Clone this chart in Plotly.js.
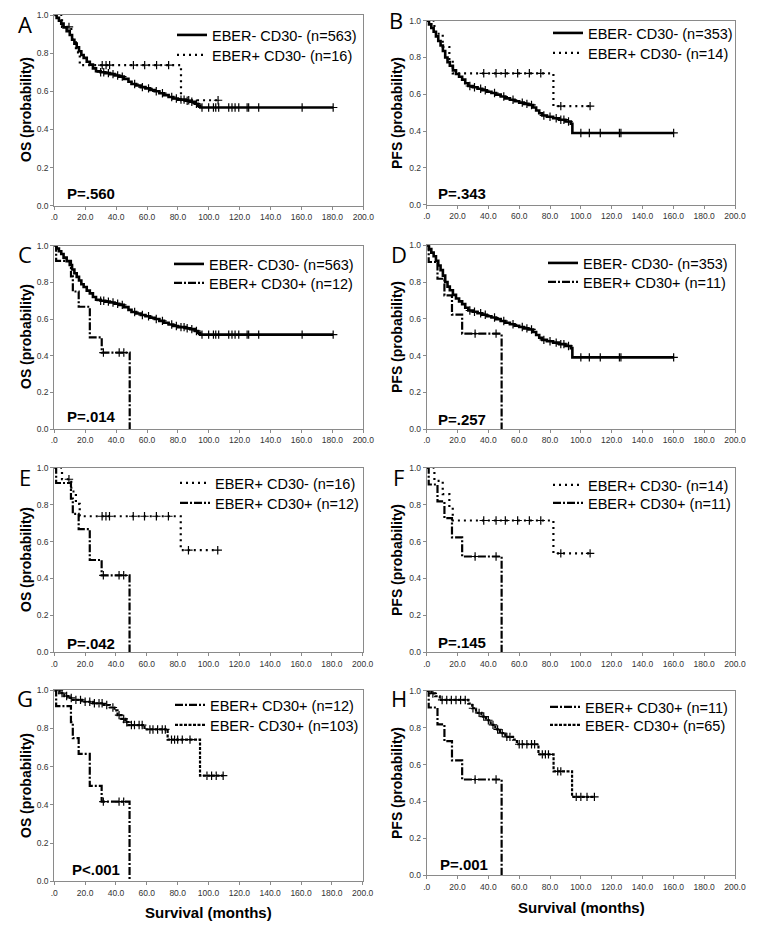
<!DOCTYPE html>
<html><head><meta charset="utf-8">
<script src="https://cdn.plot.ly/plotly-3.0.1.min.js"></script>
<style>html,body{margin:0;padding:0;background:#fff}#chart{width:762px;height:938px}</style>
</head><body><div id="chart"></div>
<script>
// ---------------- DATA ----------------
const xTickVals = [0,20,40,60,80,100,120,140,160,180,200];
const xTickText = ['.0','20.0','40.0','60.0','80.0','100.0','120.0','140.0','160.0','180.0','200.0'];
const yTickVals = [0,0.2,0.4,0.6,0.8,1.0];
const yTickText = ['0.0','0.2','0.4','0.6','0.8','1.0'];

// OS, EBER- CD30- (n=563)
const osNegNegT = [0,1.5,3,4.5,6,8,10,11.5,13,14.5,16,17.5,19,21,23,25,27,30,33,36,39,42,45,48,50,53,56,59,62,65,68,71,74,77,80,85,88,91,93,94.5,180.5];
const osNegNegS = [1.0,0.985,0.97,0.955,0.935,0.915,0.895,0.87,0.85,0.83,0.81,0.79,0.775,0.755,0.74,0.72,0.705,0.70,0.695,0.69,0.683,0.677,0.665,0.65,0.638,0.63,0.622,0.615,0.607,0.60,0.59,0.58,0.57,0.562,0.556,0.55,0.545,0.535,0.525,0.515,0.515];
const osNegNegC = [30,32,35,38,41,44,52,57,61,66,70,76,79,82,84,86,89,92,95.6,99.9,103,104.5,106.4,112.9,115,117,119.4,124.8,125.8,132.3,160.4,180.5];

// PFS, EBER- CD30- (n=353)
const pfsNegNegT = [0,1.5,3,4.5,6,7.5,9,10.5,12,13.5,15,17,19,21,23,25,27,30,33,36,39,42,45,48,51,54,57,60,63,66,69,71,73,75,78,82,86,90,93.5,94.5,160.5];
const pfsNegNegS = [1.0,0.98,0.96,0.94,0.915,0.89,0.865,0.835,0.80,0.775,0.755,0.73,0.71,0.695,0.68,0.66,0.645,0.638,0.63,0.622,0.614,0.607,0.598,0.588,0.578,0.57,0.562,0.555,0.548,0.542,0.528,0.512,0.497,0.485,0.478,0.47,0.462,0.452,0.44,0.39,0.39];
const pfsNegNegC = [28,31,35,38,44,50,56,62,65,68,76,80,84,87,89,92,100,105.5,112.6,125,126,160.2];

// OS, EBER+ CD30- (n=16)
const osPosNegT = [0,5,11,14,16.5,82,106];
const osPosNegS = [1.0,0.9375,0.871,0.804,0.737,0.553,0.553];
const osPosNegC = [9.5,31,33.5,35.8,51.2,58.5,66.2,74,87,106];

// PFS, EBER+ CD30- (n=14)
const pfsPosNegT = [0,5,10.4,14.7,16.9,82.2,106];
const pfsPosNegS = [1.0,0.929,0.857,0.786,0.714,0.536,0.536];
const pfsPosNegC = [37,45,51,59,66.6,74,87,106];

// OS, EBER+ CD30+ (n=12)
const osPosPosT = [0,1.2,10.8,12,15.8,23,30.7,48.8];
const osPosPosS = [1.0,0.917,0.833,0.75,0.667,0.5,0.417,0.0];
const osPosPosC = [31.8,42,45];

// PFS, EBER+ CD30+ (n=11)
const pfsPosPosT = [0,1.3,7,11.5,16.4,23,48.6];
const pfsPosPosS = [1.0,0.909,0.818,0.727,0.623,0.519,0.0];
const pfsPosPosC = [31.4,45];

// OS, EBER- CD30+ (n=103)
const osNegPosT = [0,3.5,6.5,9,12,18,25,32,36,39,41,43.5,46,48,58.5,73.5,94.5,109.5];
const osNegPosS = [1.0,0.985,0.97,0.96,0.95,0.94,0.932,0.923,0.91,0.895,0.87,0.85,0.833,0.818,0.795,0.742,0.553,0.553];
const osNegPosC = [3,5,8,11,14,17,20,23,26,29,31,34,38,42,45,47,50,52,55,57,62,64,67,70,72,76,78,80,83,88,99,102,105,109.5];

// PFS, EBER- CD30+ (n=65)
const pfsNegPosT = [0,3,5.5,8.5,27,29.5,32,35.5,38.5,41.5,44.5,47.5,51,56,58.5,72.5,82.3,94.3,108.8];
const pfsNegPosS = [1.0,0.985,0.97,0.95,0.93,0.905,0.88,0.86,0.84,0.815,0.79,0.77,0.75,0.735,0.71,0.655,0.563,0.425,0.425];
const pfsNegPosC = [4,10,13,16,19,22,25,30,34,37,40,43,46,49,52,54,60,62,65,68,70,75,77,79,85,87,97,100,104,108.8];

const seriesLabels = {
  osNN:'EBER- CD30- (n=563)', pfsNN:'EBER- CD30- (n=353)',
  osPN:'EBER+ CD30- (n=16)',  pfsPN:'EBER+ CD30- (n=14)',
  osPP:'EBER+ CD30+ (n=12)',  pfsPP:'EBER+ CD30+ (n=11)',
  osNP:'EBER- CD30+ (n=103)', pfsNP:'EBER- CD30+ (n=65)'
};
const panelLetters = ['A','B','C','D','E','F','G','H'];
const panelPValues = ['P=.560','P=.343','P=.014','P=.257','P=.042','P=.145','P<.001','P=.001'];
const panelYTitles = ['OS (probability)','PFS (probability)','OS (probability)','PFS (probability)','OS (probability)','PFS (probability)','OS (probability)','PFS (probability)'];
const panelSeries = [['osNN','osPN'],['pfsNN','pfsPN'],['osNN','osPP'],['pfsNN','pfsPP'],['osPN','osPP'],['pfsPN','pfsPP'],['osPP','osNP'],['pfsPP','pfsNP']];
const xTitle = 'Survival (months)';

// ---------------- BUILD ----------------
const curves = {
  osNN:{t:osNegNegT,s:osNegNegS,c:osNegNegC,kind:'NN'},
  pfsNN:{t:pfsNegNegT,s:pfsNegNegS,c:pfsNegNegC,kind:'NN'},
  osPN:{t:osPosNegT,s:osPosNegS,c:osPosNegC,kind:'PN'},
  pfsPN:{t:pfsPosNegT,s:pfsPosNegS,c:pfsPosNegC,kind:'PN'},
  osPP:{t:osPosPosT,s:osPosPosS,c:osPosPosC,kind:'PP'},
  pfsPP:{t:pfsPosPosT,s:pfsPosPosS,c:pfsPosPosC,kind:'PP'},
  osNP:{t:osNegPosT,s:osNegPosS,c:osNegPosC,kind:'NP'},
  pfsNP:{t:pfsNegPosT,s:pfsNegPosS,c:pfsNegPosC,kind:'NP'}
};
const styles = {
  NN:{width:2.6,dash:'solid'},
  PN:{width:2.2,dash:'2px,4px'},
  PP:{width:2.2,dash:'8px,2px,2px,2px'},
  NP:{width:2.2,dash:'3px,1.5px'}
};
function stepAt(cv,t){let v=cv.s[0];for(let i=0;i<cv.t.length;i++){if(cv.t[i]<=t)v=cv.s[i];}return v;}

const W=762,H=938;
const PX=p=>p/W, PY=p=>1-p/H;
const FONT='Liberation Sans, Arial, sans-serif';
// plot-area boxes in px: [left,right,top,bottom]
const boxes=[[54.3,363.3,15,205.7],[426.7,735,20.7,204.7],[54.3,363.3,245.7,429],[426.7,735,245.3,429],
             [54.3,362.7,467.7,652.3],[426.7,735,467.7,652.3],[54.3,362.7,690.3,881.3],[426.7,735,690.7,875.3]];
const letterPos=[[25,24],[396,20],[25,254],[399,254],[25,477],[399,477],[25,698],[399,698]];
const yTitlePos=[[26,110],[397,113],[26,337],[397,337],[26,560],[397,560],[26,786],[397,783]];
const pPos=[[65,193],[436,193],[65,417],[436,419],[65,643],[436,642],[70,869],[438,864]];
// legend rows: [text start x, row1 centre y, row2 centre y]
const legendRows=[[210,35,55],[586,33,53],[207,264,283],[581,263,282],[213,483,503],[586,485,503],[208,705,725],[583,707,725]];

const traces=[], annotations=[];
const layout={width:W,height:H,margin:{l:0,r:0,t:0,b:0},paper_bgcolor:'#fff',plot_bgcolor:'#fff',
  showlegend:true,font:{family:FONT,color:'#000'},annotations};

let legendCount=0;
for(let p=0;p<8;p++){
  const k=p===0?'':String(p+1);
  const b=boxes[p];
  const axCommon={showgrid:false,zeroline:false,showline:true,mirror:true,linecolor:'#8a8a8a',linewidth:1,
    ticks:'outside',ticklen:3,tickcolor:'#8a8a8a',tickfont:{family:FONT,size:8.5,color:'#333'}};
  layout['xaxis'+k]=Object.assign({},axCommon,{domain:[PX(b[0]),PX(b[1])],range:[0,200],tickvals:xTickVals,ticktext:xTickText,anchor:'y'+k,fixedrange:true});
  layout['yaxis'+k]=Object.assign({},axCommon,{domain:[PY(b[3]),PY(b[2])],range:[0,1],tickvals:yTickVals,ticktext:yTickText,anchor:'x'+k,fixedrange:true});
  panelSeries[p].forEach((key,ri)=>{
    const cv=curves[key], st=styles[cv.kind];
    legendCount++;
    const lg='legend'+(legendCount===1?'':legendCount);
    layout[lg]={x:PX(legendRows[p][0]-38),y:PY(legendRows[p][1+ri]-16),xanchor:'left',yanchor:'top',bgcolor:'rgba(0,0,0,0)',
      borderwidth:0,font:{family:FONT,size:14.5,color:'#000'},itemwidth:30,tracegroupgap:0};
    traces.push({type:'scatter',mode:'lines',x:cv.t,y:cv.s,xaxis:'x'+k,yaxis:'y'+k,
      line:{shape:'hv',color:'#000',width:st.width,dash:st.dash},name:seriesLabels[key],legend:lg,hoverinfo:'skip'});
  });
  panelSeries[p].forEach(key=>{
    const cv=curves[key];
    traces.push({type:'scatter',mode:'markers',x:cv.c,y:cv.c.map(t=>stepAt(cv,t)),xaxis:'x'+k,yaxis:'y'+k,
      marker:{symbol:'cross-thin',size:6,color:'#000',line:{width:1.2,color:'#000'}},showlegend:false,hoverinfo:'skip'});
  });
  annotations.push({xref:'paper',yref:'paper',x:PX(letterPos[p][0]),y:PY(letterPos[p][1]),text:panelLetters[p],
    showarrow:false,xanchor:'center',yanchor:'middle',font:{family:'Open Sans, sans-serif',size:22,color:'#000'}});
  annotations.push({xref:'paper',yref:'paper',x:PX(yTitlePos[p][0]),y:PY(yTitlePos[p][1]),text:'<b>'+panelYTitles[p]+'</b>',
    textangle:-90,showarrow:false,xanchor:'center',yanchor:'middle',font:{family:FONT,size:14,color:'#000'}});
  annotations.push({xref:'paper',yref:'paper',x:PX(pPos[p][0]),y:PY(pPos[p][1]),text:'<b>'+panelPValues[p]+'</b>',
    showarrow:false,xanchor:'left',yanchor:'middle',font:{family:FONT,size:15,color:'#000'}});
}
annotations.push({xref:'paper',yref:'paper',x:PX(208),y:PY(912),text:'<b>'+xTitle+'</b>',showarrow:false,xanchor:'center',yanchor:'middle',font:{family:FONT,size:15,color:'#000'}});
annotations.push({xref:'paper',yref:'paper',x:PX(581),y:PY(907),text:'<b>'+xTitle+'</b>',showarrow:false,xanchor:'center',yanchor:'middle',font:{family:FONT,size:15,color:'#000'}});

Plotly.newPlot('chart',traces,layout,{staticPlot:true,displayModeBar:false});
</script></body></html>
